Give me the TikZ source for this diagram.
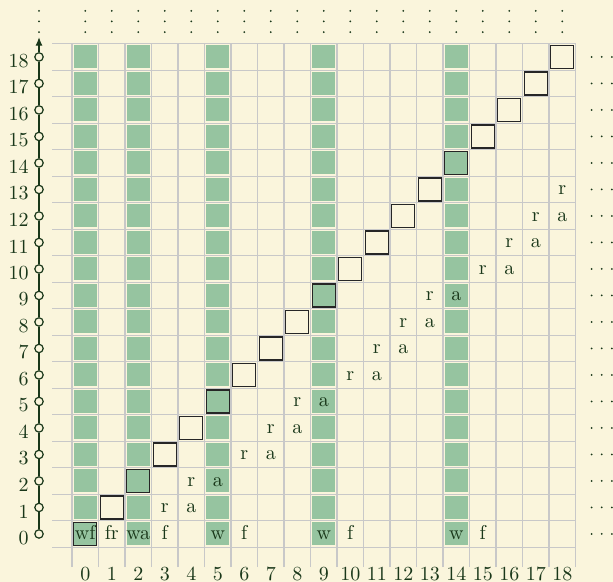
\documentclass[tikz,border=0pt]{standalone}
\usepackage{amsmath,amssymb}
\usetikzlibrary{arrows.meta}

\definecolor{bgcream}{RGB}{250,245,220}
\definecolor{cellgreen}{RGB}{150,196,160}
\definecolor{gridgray}{RGB}{200,200,200}
\definecolor{inkgreen}{RGB}{25,55,25}

\begin{document}
\begin{tikzpicture}[x=0.4657cm,y=0.4657cm,
  cell/.style={minimum size=0.405cm,inner sep=0pt,outer sep=0pt},
  wcell/.style={cell,fill=cellgreen},
  boxcell/.style={cell,draw=black!85,line width=0.6pt},
  lab/.style={text=inkgreen,inner sep=0pt,text height=1.5ex,text depth=.25ex},
  num/.style={text=inkgreen},
  tick/.style={circle,draw=inkgreen,fill=bgcream,line width=0.6pt,minimum size=4.2pt,inner sep=0pt},
  dotmark/.style={inkgreen}
]
\fill[bgcream] (-3.217,-1.811) rectangle (19.915,20.15);
\useasboundingbox (-3.217,-1.811) rectangle (19.915,20.15);

\foreach \k in {0,...,19} {
  \draw[gridgray,line width=0.6pt] (-1.25,\k-0.5) -- (18.5,\k-0.5);
  \draw[gridgray,line width=0.6pt] (\k-0.5,-1.25) -- (\k-0.5,18.5);
}

\foreach \c in {0,2,5,9,14}
  \foreach \r in {0,...,18}
    \node[wcell] (g-\c-\r) at (\c,\r) {};

\foreach \d in {0,...,18}
  \node[boxcell] (d-\d) at (\d,\d) {};

\foreach \c/\t in {0/wf,1/fr,2/wa,3/f,5/w,6/f,9/w,10/f,14/w,15/f}
  \node[lab] (z-\c) at (\c,0) {\t};

\foreach \c/\r/\t in {3/1/r,4/1/a,4/2/r,5/2/a,6/3/r,7/3/a,7/4/r,8/4/a,8/5/r,9/5/a,
  10/6/r,11/6/a,11/7/r,12/7/a,12/8/r,13/8/a,13/9/r,14/9/a,15/10/r,16/10/a,
  16/11/r,17/11/a,17/12/r,18/12/a,18/13/r}
  \node[lab] (m-\c-\r) at (\c,\r) {\t};

\foreach \r in {0,...,18} {
  \node[tick] (t\r) at (-1.745,\r) {};
  \node[num,anchor=east] (n\r) at (-1.87,\r-0.15) {\r};
}
\coordinate (ttop) at (-1.745,18.75);
\foreach \r [evaluate=\r as \s using int(\r+1)] in {0,...,17}
  \draw[inkgreen,line width=0.6pt] (t\r) -- (t\s);
\draw[inkgreen,line width=0.6pt,-{Latex[length=4.3pt,width=3.5pt]}] (t18) -- (ttop);

\foreach \c in {0,...,18}
  \node[num] (b\c) at (\c,-1.51) {\c};

\foreach \x in {-1.745,0,1,...,18}
  \foreach \y in {18.94,19.34,19.74}
    \fill[dotmark] (\x,\y) circle (0.5pt);

\foreach \r in {0,...,18}
  \foreach \x in {19.11,19.49,19.87}
    \fill[dotmark] (\x,\r) circle (0.5pt);
\end{tikzpicture}
\end{document}
